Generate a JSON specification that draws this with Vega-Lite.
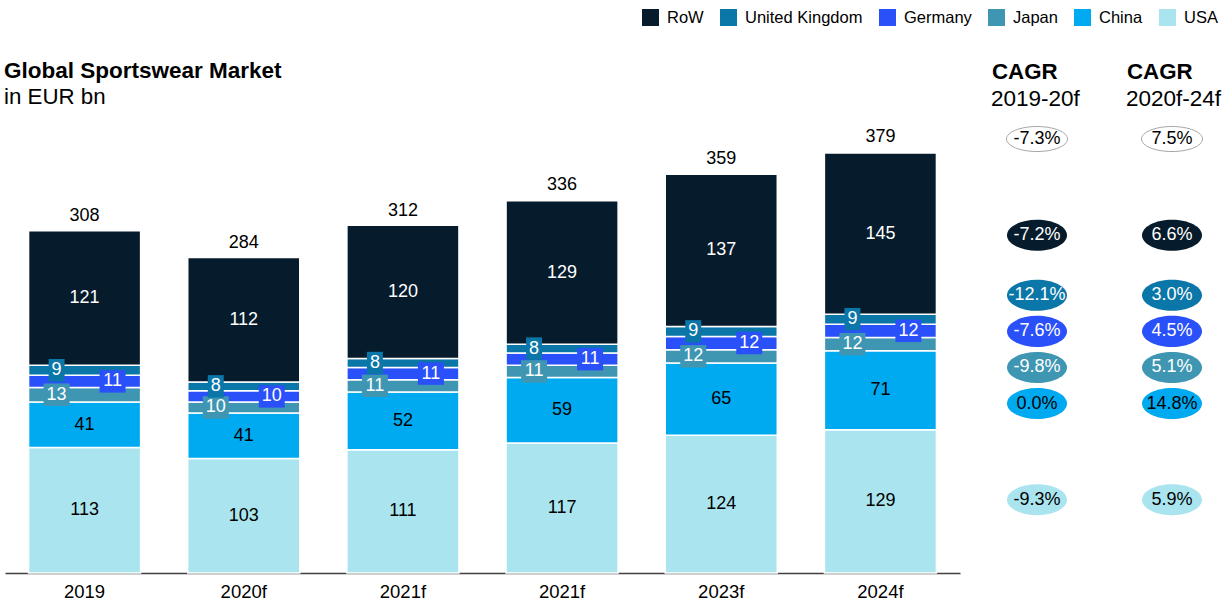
{
  "$schema": "https://vega.github.io/schema/vega-lite/v6.json",
  "width": 1228,
  "height": 573,
  "autosize": {"type": "none"},
  "padding": {"left": 0, "top": 0, "right": 0, "bottom": 30},
  "background": "white",
  "config": {"view": {"stroke": null}, "font": "Liberation Sans", "text": {"font": "Liberation Sans"}},
  "title": {
    "text": "Global Sportswear Market",
    "subtitle": "in EUR bn",
    "anchor": "start",
    "frame": "group",
    "orient": "top",
    "offset": -108,
    "dx": 4,
    "font": "Liberation Sans",
    "fontSize": 22.5,
    "fontWeight": "bold",
    "color": "black",
    "subtitleFont": "Liberation Sans",
    "subtitleFontSize": 22.3,
    "subtitleColor": "black",
    "subtitlePadding": 3
  },
  "datasets": {
    "market": [
      {"year": "2019", "country": "USA", "value": 113},
      {"year": "2019", "country": "China", "value": 41},
      {"year": "2019", "country": "Japan", "value": 13},
      {"year": "2019", "country": "Germany", "value": 11},
      {"year": "2019", "country": "United Kingdom", "value": 9},
      {"year": "2019", "country": "RoW", "value": 121},
      {"year": "2020f", "country": "USA", "value": 103},
      {"year": "2020f", "country": "China", "value": 41},
      {"year": "2020f", "country": "Japan", "value": 10},
      {"year": "2020f", "country": "Germany", "value": 10},
      {"year": "2020f", "country": "United Kingdom", "value": 8},
      {"year": "2020f", "country": "RoW", "value": 112},
      {"year": "2021f", "country": "USA", "value": 111},
      {"year": "2021f", "country": "China", "value": 52},
      {"year": "2021f", "country": "Japan", "value": 11},
      {"year": "2021f", "country": "Germany", "value": 11},
      {"year": "2021f", "country": "United Kingdom", "value": 8},
      {"year": "2021f", "country": "RoW", "value": 120},
      {"year": "2022f", "country": "USA", "value": 117},
      {"year": "2022f", "country": "China", "value": 59},
      {"year": "2022f", "country": "Japan", "value": 11},
      {"year": "2022f", "country": "Germany", "value": 11},
      {"year": "2022f", "country": "United Kingdom", "value": 8},
      {"year": "2022f", "country": "RoW", "value": 129},
      {"year": "2023f", "country": "USA", "value": 124},
      {"year": "2023f", "country": "China", "value": 65},
      {"year": "2023f", "country": "Japan", "value": 12},
      {"year": "2023f", "country": "Germany", "value": 12},
      {"year": "2023f", "country": "United Kingdom", "value": 9},
      {"year": "2023f", "country": "RoW", "value": 137},
      {"year": "2024f", "country": "USA", "value": 129},
      {"year": "2024f", "country": "China", "value": 71},
      {"year": "2024f", "country": "Japan", "value": 12},
      {"year": "2024f", "country": "Germany", "value": 12},
      {"year": "2024f", "country": "United Kingdom", "value": 9},
      {"year": "2024f", "country": "RoW", "value": 145}
    ],
    "totals": [
      {"year": "2019", "total": 308},
      {"year": "2020f", "total": 284},
      {"year": "2021f", "total": 312},
      {"year": "2022f", "total": 336},
      {"year": "2023f", "total": 359},
      {"year": "2024f", "total": 379}
    ],
    "cagr": [
      {"period": "2019-20f", "country": "Total", "cagr": "-7.3%"},
      {"period": "2019-20f", "country": "RoW", "cagr": "-7.2%"},
      {"period": "2019-20f", "country": "United Kingdom", "cagr": "-12.1%"},
      {"period": "2019-20f", "country": "Germany", "cagr": "-7.6%"},
      {"period": "2019-20f", "country": "Japan", "cagr": "-9.8%"},
      {"period": "2019-20f", "country": "China", "cagr": "0.0%"},
      {"period": "2019-20f", "country": "USA", "cagr": "-9.3%"},
      {"period": "2020f-24f", "country": "Total", "cagr": "7.5%"},
      {"period": "2020f-24f", "country": "RoW", "cagr": "6.6%"},
      {"period": "2020f-24f", "country": "United Kingdom", "cagr": "3.0%"},
      {"period": "2020f-24f", "country": "Germany", "cagr": "4.5%"},
      {"period": "2020f-24f", "country": "Japan", "cagr": "5.1%"},
      {"period": "2020f-24f", "country": "China", "cagr": "14.8%"},
      {"period": "2020f-24f", "country": "USA", "cagr": "5.9%"}
    ]
  },
  "layer": [
    {
      "data": {"name": "market"},
      "transform": [
        {"calculate": "indexof(['USA','China','Japan','Germany','United Kingdom','RoW'], datum.country)", "as": "ord"},
        {"stack": "value", "groupby": ["year"], "sort": [{"field": "ord", "order": "ascending"}], "as": ["v0", "v1"]},
        {"calculate": "(datum.v0 + datum.v1) / 2", "as": "mid"}
      ],
      "encoding": {
        "x": {
          "field": "year",
          "type": "nominal",
          "sort": null,
          "scale": {"domain": ["2019", "2020f", "2021f", "2022f", "2023f", "2024f"], "range": [5, 960], "paddingInner": 0.296, "paddingOuter": 0.148},
          "axis": {
            "title": null,
            "ticks": false,
            "grid": false,
            "domainColor": "#404040",
            "domainWidth": 1.5,
            "labelFont": "Liberation Sans",
            "labelFontSize": 18.5,
            "labelColor": "black",
            "labelPadding": 9,
            "labelAngle": 0,
            "labelExpr": "datum.value === '2022f' ? '2021f' : datum.value"
          }
        }
      },
      "layer": [
        {
          "mark": {"type": "bar", "stroke": "white", "strokeWidth": 1.5},
          "encoding": {
            "y": {"field": "v0", "type": "quantitative", "scale": {"domain": [0, 515.8], "nice": false, "zero": true}, "axis": null},
            "y2": {"field": "v1"},
            "color": {
              "field": "country",
              "type": "nominal",
              "scale": {
                "domain": ["RoW", "United Kingdom", "Germany", "Japan", "China", "USA"],
                "range": ["#061b2b", "#0b76a8", "#2a50fa", "#3f96b3", "#00aaf0", "#aae5ef"]
              },
              "legend": {
                "title": null,
                "orient": "none",
                "legendX": 642,
                "legendY": 9,
                "direction": "horizontal",
                "symbolType": "square",
                "symbolSize": 289,
                "symbolStrokeWidth": 0,
                "symbolOpacity": 1,
                "labelFont": "Liberation Sans",
                "labelFontSize": 16.5,
                "labelColor": "black",
                "columnPadding": 16,
                "labelOffset": 8,
                "padding": 0
              }
            }
          }
        },
        {
          "transform": [{"filter": "indexof(['RoW','China','USA'], datum.country) >= 0"}],
          "mark": {"type": "text", "fontSize": 18, "baseline": "middle", "align": "center"},
          "encoding": {
            "y": {"field": "mid", "type": "quantitative"},
            "text": {"field": "value", "type": "quantitative"},
            "color": {"condition": {"test": "datum.country === 'RoW'", "value": "white"}, "value": "black"}
          }
        },
        {
          "transform": [{"filter": "datum.country === 'United Kingdom' || datum.country === 'Japan'"}],
          "mark": {"type": "point", "filled": true, "opacity": 1, "strokeWidth": 0, "size": 676, "xOffset": -28},
          "encoding": {
            "y": {"field": "mid", "type": "quantitative"},
            "shape": {"condition": {"test": "datum.value >= 10", "value": "M-1,-0.865H1V0.865H-1Z"}, "value": "M-0.615,-0.865H0.615V0.865H-0.615Z"},
            "color": {"field": "country", "type": "nominal", "legend": null}
          }
        },
        {
          "transform": [{"filter": "datum.country === 'Germany'"}],
          "mark": {"type": "point", "filled": true, "opacity": 1, "strokeWidth": 0, "size": 676, "xOffset": 28},
          "encoding": {
            "y": {"field": "mid", "type": "quantitative"},
            "shape": {"condition": {"test": "datum.value >= 10", "value": "M-1,-0.865H1V0.865H-1Z"}, "value": "M-0.615,-0.865H0.615V0.865H-0.615Z"},
            "color": {"field": "country", "type": "nominal", "legend": null}
          }
        },
        {
          "transform": [{"filter": "datum.country === 'United Kingdom' || datum.country === 'Japan'"}],
          "mark": {"type": "text", "fontSize": 18, "baseline": "middle", "align": "center", "xOffset": -28, "color": "white"},
          "encoding": {
            "y": {"field": "mid", "type": "quantitative"},
            "text": {"field": "value", "type": "quantitative"}
          }
        },
        {
          "transform": [{"filter": "datum.country === 'Germany'"}],
          "mark": {"type": "text", "fontSize": 18, "baseline": "middle", "align": "center", "xOffset": 28, "color": "white"},
          "encoding": {
            "y": {"field": "mid", "type": "quantitative"},
            "text": {"field": "value", "type": "quantitative"}
          }
        },
        {
          "data": {"name": "totals"},
          "mark": {"type": "text", "fontSize": 18, "baseline": "middle", "align": "center", "dy": -15, "color": "black"},
          "encoding": {
            "y": {"field": "total", "type": "quantitative"},
            "text": {"field": "total", "type": "quantitative"}
          }
        }
      ]
    },
    {
      "data": {"name": "cagr"},
      "encoding": {
        "x": {
          "field": "period",
          "type": "nominal",
          "scale": {"type": "point", "domain": ["2019-20f", "2020f-24f"], "range": [1037, 1172], "padding": 0},
          "axis": null
        }
      },
      "layer": [
        {
          "transform": [{"filter": "datum.country === 'Total'"}],
          "mark": {"type": "point", "shape": "M-1,0C-1,-0.226 -0.5523,-0.41 0,-0.41C0.5523,-0.41 1,-0.226 1,0C1,0.226 0.5523,0.41 0,0.41C-0.5523,0.41 -1,0.226 -1,0Z", "size": 3721, "fill": "white", "stroke": "#a6a6a6", "strokeWidth": 1, "opacity": 1, "filled": true},
          "encoding": {
            "y": {
              "field": "country",
              "type": "nominal",
              "scale": {
                "type": "point",
                "padding": 0,
                "domain": ["Header", "s1", "s2", "s3", "s4", "Total", "s5", "s6", "s7", "s8", "s9", "s10", "s11", "RoW", "s12", "s13", "s14", "s15", "United Kingdom", "s16", "s17", "Germany", "s18", "s19", "Japan", "s20", "s21", "China", "s22", "s23", "s24", "s25", "s26", "s27", "s28", "USA"],
                "range": [78.9, 499.7]
              },
              "axis": null
            }
          }
        },
        {
          "transform": [{"filter": "datum.country !== 'Total'"}],
          "mark": {"type": "point", "shape": "M-1,0C-1,-0.2855 -0.5523,-0.517 0,-0.517C0.5523,-0.517 1,-0.2855 1,0C1,0.2855 0.5523,0.517 0,0.517C-0.5523,0.517 -1,0.2855 -1,0Z", "size": 3600, "filled": true, "opacity": 1, "strokeWidth": 0},
          "encoding": {
            "y": {"field": "country", "type": "nominal"},
            "color": {"field": "country", "type": "nominal", "legend": null}
          }
        },
        {
          "mark": {"type": "text", "fontSize": 18, "baseline": "middle", "align": "center"},
          "encoding": {
            "y": {"field": "country", "type": "nominal"},
            "text": {"field": "cagr", "type": "nominal"},
            "color": {"condition": {"test": "indexof(['RoW','United Kingdom','Germany','Japan'], datum.country) >= 0", "value": "white"}, "value": "black"}
          }
        },
        {
          "transform": [{"filter": "datum.country === 'Total'"}],
          "mark": {"type": "text", "fontSize": 22.3, "fontWeight": "bold", "baseline": "middle", "align": "left", "dx": -45, "dy": -7, "color": "black"},
          "encoding": {
            "y": {"datum": "Header", "type": "nominal"},
            "text": {"value": "CAGR"}
          }
        },
        {
          "transform": [{"filter": "datum.country === 'Total'"}],
          "mark": {"type": "text", "fontSize": 22.5, "baseline": "middle", "align": "left", "dx": -46, "dy": 20, "color": "black"},
          "encoding": {
            "y": {"datum": "Header", "type": "nominal"},
            "text": {"field": "period", "type": "nominal"}
          }
        }
      ]
    }
  ],
  "resolve": {"scale": {"x": "independent", "y": "independent"}}
}
